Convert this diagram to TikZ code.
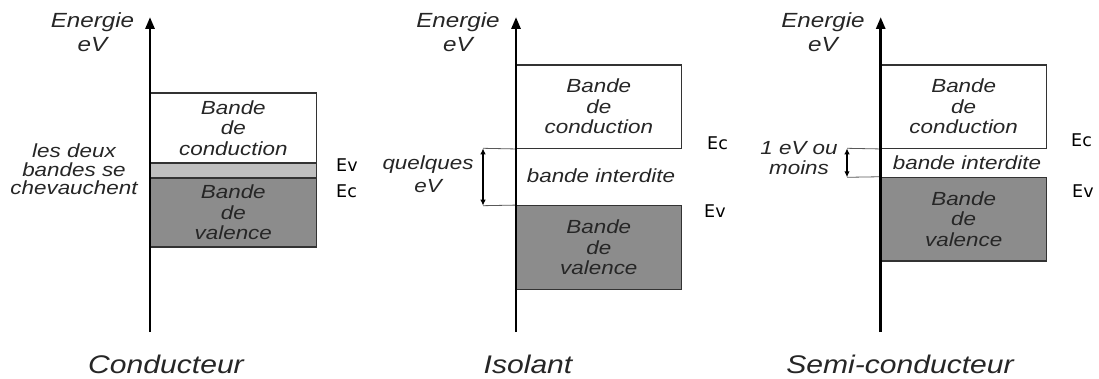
\documentclass[tikz,border=0pt]{standalone}
\usepackage{fontspec}
\setmainfont{Liberation Sans}[FakeStretch=1.18]
\newfontfamily\ecfont{DejaVu Sans}
\usetikzlibrary{arrows.meta}
\tikzset{
  axisline/.style={line width=2.8pt, -{Triangle[length=12pt,width=9pt]}},
  band/.style={draw=black!80, line width=1.2pt, inner sep=0pt, align=center,
    font=\itshape\fontsize{19}{20.5}\selectfont, text=black!85},
  cband/.style={band, fill=white},
  vband/.style={band, fill=black!45},
  overlapband/.style={draw=black!80, line width=1.2pt, fill=black!25, inner sep=0pt},
  gapline/.style={draw=black!65, line width=0.8pt},
  gaparrow/.style={line width=1.8pt, {Latex[length=6pt,width=5.5pt]}-{Latex[length=6pt,width=5.5pt]}},
  lbl/.style={text=black!85, align=center, inner sep=0pt, anchor=base},
  ttl/.style={font=\itshape\fontsize{25.5}{30}\selectfont, text=black!85, inner sep=0pt, anchor=base},
  ecl/.style={font=\ecfont\fontsize{17.5}{19}\selectfont, inner sep=0pt, anchor=base west},
}
\begin{document}
\begin{tikzpicture}[x=1pt,y=-1pt]
\useasboundingbox[fill=white] (0,0) rectangle (1099,379);

% ---------- Panel 1: Conducteur ----------
\node[cband, minimum width=166.7pt, minimum height=70pt] (c1) at (233.3,128) {Bande\\de\\conduction};
\node[overlapband, minimum width=166.7pt, minimum height=15pt] (o1) at (233.3,170.5) {};
\node[vband, minimum width=166.7pt, minimum height=69pt] (v1) at (233.3,212.5) {Bande\\de\\valence};
\coordinate (a1b) at (150,332);
\coordinate (a1t) at (150,17);
\draw[axisline] (a1b) -- (a1t);
\node[lbl, font=\itshape\fontsize{20.5}{24}\selectfont] (e1) at (92.5,52) {Energie\\eV};
\node[lbl, font=\itshape\fontsize{19}{18.5}\selectfont] (ov) at (74,195) {les deux\\bandes se\\chevauchent};
\node[ecl] (ev1) at (336,172) {Ev};
\node[ecl] (ec1) at (336,198) {Ec};
\node[ttl] (t1) at (166,373) {Conducteur};

% ---------- Panel 2: Isolant ----------
\node[cband, minimum width=165.7pt, minimum height=83.3pt] (c2) at (598.8,106.7) {Bande\\de\\conduction};
\node[vband, minimum width=165.7pt, minimum height=83.6pt] (v2) at (598.8,247.5) {Bande\\de\\valence};
\coordinate (g2t) at (483,148.3);
\coordinate (g2b) at (483,205.7);
\draw[gapline] (g2t) -- (c2.south west);
\draw[gapline] (g2b) -- (v2.north west);
\draw[gaparrow] (g2t) -- (g2b);
\coordinate (a2b) at (516,332);
\coordinate (a2t) at (516,17);
\draw[axisline] (a2b) -- (a2t);
\node[lbl, font=\itshape\fontsize{20.5}{24}\selectfont] (e2) at (458,52) {Energie\\eV};
\node[lbl, font=\itshape\fontsize{19}{23}\selectfont] (q2) at (428,193) {quelques\\eV};
\node[lbl, font=\itshape\fontsize{19}{20.5}\selectfont] (i2) at (601,183) {bande interdite};
\node[ecl] (ec2) at (707,150) {Ec};
\node[ecl] (ev2) at (704,218) {Ev};
\node[ttl] (t2) at (528,373) {Isolant};

% ---------- Panel 3: Semi-conducteur ----------
\node[cband, minimum width=166pt, minimum height=83.3pt] (c3) at (963.7,106.7) {Bande\\de\\conduction};
\node[vband, minimum width=166pt, minimum height=83.7pt] (v3) at (963.7,219.2) {Bande\\de\\valence};
\coordinate (g3t) at (847,148.3);
\coordinate (g3b) at (847,177.3);
\draw[gapline] (g3t) -- (c3.south west);
\draw[gapline] (g3b) -- (v3.north west);
\draw[gaparrow] (g3t) -- (g3b);
\coordinate (a3b) at (880.7,332);
\coordinate (a3t) at (880.7,17);
\draw[axisline] (a3b) -- (a3t);
\node[lbl, font=\itshape\fontsize{20.5}{24}\selectfont] (e3) at (823,52) {Energie\\eV};
\node[lbl, font=\itshape\fontsize{19}{20}\selectfont] (q3) at (799,175) {1 eV ou\\moins};
\node[lbl, font=\itshape\fontsize{19}{20.5}\selectfont] (i3) at (967,170) {bande interdite};
\node[ecl] (ec3) at (1071,147) {Ec};
\node[ecl] (ev3) at (1072,198) {Ev};
\node[ttl] (t3) at (900,373) {Semi-conducteur};
\end{tikzpicture}
\end{document}
